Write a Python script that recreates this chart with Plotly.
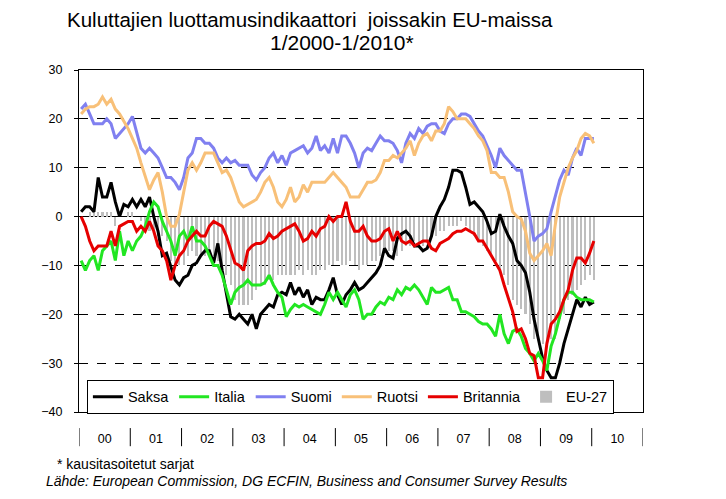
import plotly.graph_objects as go

# Monthly data 1/2000 - 1/2010 (121 months)
saksa = [1, 2, 2, 1, 8, 4, 4, 7, 3, 0, 2.5, 2,
         3.5, 2, 3.5, 2, 4, 0, -3, -8, -7.5, -10.5, -13, -14,
         -12.5, -12, -10, -9.5, -8, -7, -7, -9.5, -5.5, -11, -16, -20.5,
         -21, -20, -21, -22, -20, -23, -20, -19, -18, -18.5, -16, -15.5,
         -16, -13.5, -16, -14.5, -16.5, -15, -18, -16.5, -17, -17, -15, -12.5,
         -16, -18, -16, -15, -13.5, -15, -14.5, -13.5, -12.5, -11.5, -10, -6.5,
         -8, -8.5, -4.5, -3.5, -3, -4, -6, -6, -7, -6.5, -4, 0,
         2, 3.5, 6, 9.5, 9.5, 9, 6, 2.5, 3, 2, 1, -1,
         -3.5, -3, 0.5, -2, -4, -5.5, -9, -10, -11.5, -15.5, -21, -25,
         -29, -31.5, -33, -33, -30, -26, -23, -19.5, -17, -18.5, -16.5, -18,
         -17.5]

italia = [-9, -11, -9, -8, -11, -7, -6, -5, -9, -3, -8, -5,
          -7, -5, -4, -2, 1, 3, 2, -1, -3, -5, -8, -4,
          -3, -5, -2, -5, -5, -6, -8, -10, -10, -12, -15, -18,
          -15.5, -14.5, -14, -13, -14, -14, -14, -13.5, -12, -14, -15.5, -16.5,
          -20.5, -19, -18, -18.5, -18, -18.5, -19, -19.5, -20, -18, -15.5, -17,
          -15.5, -17, -18.5, -16, -15, -17, -21, -20, -20, -18.5, -17.5, -18,
          -16.5, -17, -15, -16, -14.5, -15, -14, -15, -16.5, -18, -14.5, -15.5,
          -15.5, -15, -14.5, -17, -17, -19.5, -19.5, -20, -20.5, -21.5, -22, -22,
          -23, -24.5, -20, -24, -26, -23.5, -23, -24.5, -27, -28, -29.5, -28,
          -29.5, -31.5, -26.5, -24, -20.5, -17, -15.5, -15.5, -16.5, -17, -17, -17,
          -17.5]

suomi = [22, 23, 21, 19, 19, 19, 20, 19, 16, 17, 18, 19,
         20.5, 17, 14, 13, 14, 13, 12, 10, 8, 8, 7, 5.5,
         8, 12, 13, 16, 16, 15, 15, 14, 12, 11, 12, 11,
         11.5, 10.5, 10.5, 10.5, 8.5, 7.5, 9, 10, 12, 13, 11, 12.5,
         10.5, 13, 13.5, 14, 14.5, 13, 14, 16.5, 13.5, 14.5, 13, 16,
         13, 16.5, 16.5, 15, 13, 10, 13, 14, 13.5, 15, 16.5, 15.5,
         15.5, 15, 13.5, 11, 15, 17, 16, 18, 17, 18.5, 19, 19,
         17.5, 17, 19, 20, 20, 21, 21, 20.5, 19, 17.5, 16.5, 14.5,
         12.5, 10, 14, 12.5, 11.5, 10.5, 9.5, 9.5, 5, 0, -5, -4,
         -3.5, -2.5, 1, 4.5, 7.5, 9.5, 8.5, 12, 14, 12.5, 16, 16,
         16]

ruotsi = [21, 22, 22.5, 22.5, 23, 24.5, 23, 24, 22, 21, 19.5, 18,
          16, 14, 11, 8, 5.5, 7.5, 9, 5, 0, -2, -2, 0.5,
          5, 9.5, 11, 9.5, 11, 13, 13, 13, 11, 9, 9.5, 8,
          5.5, 3, 2, 2.5, 3, 3.5, 5, 7, 8, 6, 3, 2,
          3.5, 6, 3, 4, 6.5, 5, 7, 7, 7, 7, 8, 9,
          8, 7, 6, 4, 4, 4, 5.5, 7, 7, 7.5, 9, 11.5,
          11.5, 12.5, 12, 13, 14, 15.5, 12.5, 15, 16.5, 17, 15.5, 17.5,
          17.5, 19, 22.5, 21.5, 20, 20, 20, 19, 18, 16.5, 15.5, 13.5,
          9, 9, 8, 8, 5, 1, 0, -0.5, -3, -7.5, -9, -8,
          -7, -5.5, -8, -1.5, 4, 7, 10, 12, 13.5, 16, 17, 16.5,
          15]

britannia = [0, -2, -5, -7, -6, -6, -6, -3, -6, -2, -1.5, -1,
             -1, -3, -2, -3, -1, -3, -6, -7, -9, -13, -10, -8,
             -7, -5, -4, -3, -4, -4, -2, -1, -1.5, -2, -4, -7,
             -9.5, -10, -11, -7, -6, -5.5, -5.5, -5, -3.5, -4.5, -4, -3,
             -2.5, -2, -1.5, -3, -5, -4.5, -3, -4, -2.5, -2, 0, -1,
             0, 0, 3, -1, -3, -3, -2, -4, -5, -5, -4.5, -3,
             -2.5, -5, -3, -5, -5.5, -5, -6, -5.5, -5, -5, -6.5, -7,
             -5.5, -5, -4.5, -3.5, -3, -3, -2.5, -3, -3.5, -5, -5, -6.5,
             -8, -9.5, -11, -14, -17, -19.5, -23.5, -23, -25, -28, -28.5, -33,
             -33, -26, -22, -21, -19.5, -17, -15, -11, -8.5, -8.5, -9.5, -7.5,
             -5]

eu27 = [0, 0, 1, 1, 1, 1, 1, 1, -2, 1, 0, 1,
        1, 0, -1, -2, -3, -3, -4, -4, -5, -9, -10, -10,
        -10, -8, -7, -8, -8, -8, -7, -8, -9, -10, -12, -14,
        -17, -18, -18, -18, -17, -15, -14, -14, -13, -13, -12, -12,
        -12, -12, -12, -11, -12, -11, -12, -12, -11, -11, -10, -10,
        -9, -10, -10, -9, -10, -11, -10, -10, -9, -9, -8, -7,
        -7, -7, -8, -7, -6, -6, -5, -6, -6, -5, -4, -4,
        -3, -3, -2, -2, -2, -1, -2, -3, -4, -5, -6, -7,
        -8, -9, -11, -12, -14, -17, -18, -19, -20, -22, -25, -25,
        -26, -26, -25, -25, -21, -20, -17, -16, -15, -14, -13, -12,
        -13]

year_labels = ["00", "01", "02", "03", "04", "05", "06", "07", "08", "09", "10"]

months = list(range(len(saksa)))
n_years = len(year_labels)
year_centers = [12 * k + 5.5 for k in range(n_years)]
year_bounds = [12 * k - 0.5 for k in range(n_years + 1)]

FONT = "Liberation Sans, Arial, sans-serif"

fig = go.Figure()
line_series = [
    ("Saksa", saksa, "#000000"),
    ("Italia", italia, "#22E622"),
    ("Suomi", suomi, "#8080F0"),
    ("Ruotsi", ruotsi, "#F8C078"),
    ("Britannia", britannia, "#E60000"),
]
for name, vals, col in line_series:
    fig.add_trace(go.Scatter(x=months, y=vals, mode="lines", name=name,
                             line=dict(color=col, width=3)))
fig.add_trace(go.Bar(x=months, y=eu27, name="EU-27", marker_color="#BEBEBE",
                     marker_line_width=0, width=0.5))

shapes = []
for b in year_bounds:
    shapes.append(dict(type="line", xref="x", yref="paper", x0=b, x1=b,
                       y0=-0.047, y1=-0.1, line=dict(color="black", width=1)))

annotations = [
    dict(text="Kuluttajien luottamusindikaattori  joissakin EU-maissa",
         xref="paper", yref="paper", x=0.41, y=1.149, showarrow=False,
         xanchor="center", yanchor="middle", font=dict(size=20.5, family=FONT, color="black")),
    dict(text="1/2000-1/2010*",
         xref="paper", yref="paper", x=0.466, y=1.079, showarrow=False,
         xanchor="center", yanchor="middle", font=dict(size=21, family=FONT, color="black")),
    dict(text="* kausitasoitetut sarjat", xref="paper", yref="paper",
         x=-0.043, y=-0.152, xanchor="left", yanchor="middle", showarrow=False,
         font=dict(size=14, family=FONT, color="black")),
    dict(text="<i>Lähde: European Commission, DG ECFIN, Business and Consumer Survey Results</i>",
         xref="paper", yref="paper", x=-0.062, y=-0.202, xanchor="left", yanchor="middle",
         showarrow=False, font=dict(size=14, family=FONT, color="black")),
]

fig.update_layout(
    width=718, height=491,
    margin=dict(l=71, r=83, t=62, b=87),
    paper_bgcolor="white", plot_bgcolor="white",
    font=dict(family=FONT, size=12, color="black"),
    showlegend=True,
    legend=dict(orientation="h", x=0.014, y=0.094, xanchor="left", yanchor="top",
                bordercolor="black", borderwidth=1, bgcolor="white",
                font=dict(size=14.5, family=FONT), tracegroupgap=0,
                itemwidth=30),
    shapes=shapes,
    annotations=annotations,
    bargap=0,
)
fig.update_xaxes(range=[-0.5, 12 * n_years - 0.5], tickmode="array",
                 tickvals=year_centers, ticktext=year_labels,
                 ticks="outside", ticklen=15, tickcolor="rgba(0,0,0,0)",
                 showgrid=False, zeroline=False,
                 showline=True, linecolor="black", linewidth=1, mirror=True,
                 tickfont=dict(size=12.5, family=FONT))
fig.update_yaxes(range=[-40, 30], dtick=10, tick0=0,
                 ticks="outside", ticklen=4, tickcolor="black",
                 ticklabelstandoff=9,
                 showgrid=True, gridcolor="black", gridwidth=1, griddash="dash",
                 zeroline=True, zerolinecolor="black", zerolinewidth=1,
                 showline=True, linecolor="black", linewidth=1, mirror=True,
                 tickfont=dict(size=12.5, family=FONT))

fig.write_html("out.html")
